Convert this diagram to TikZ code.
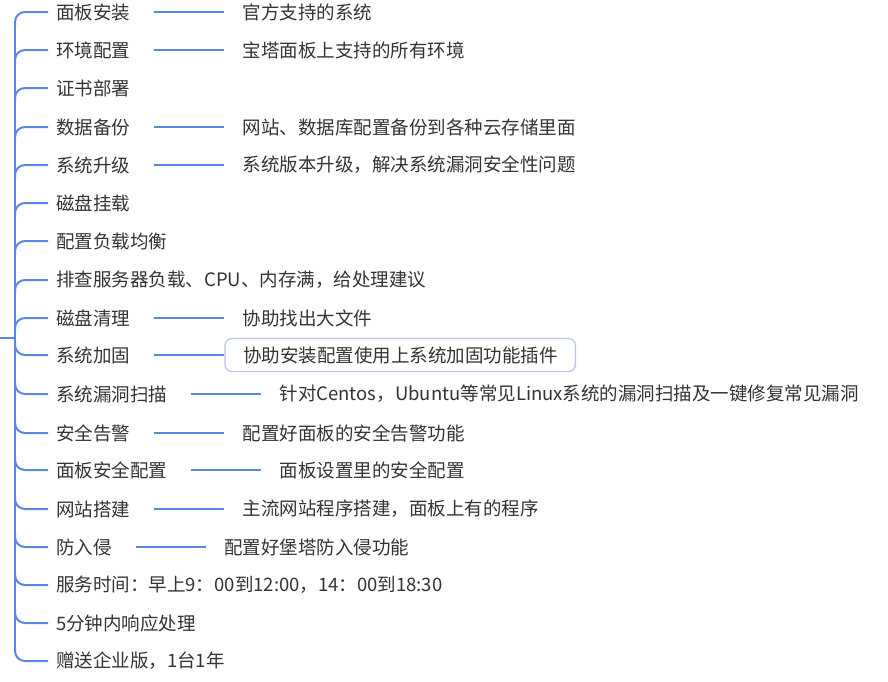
\documentclass[tikz,border=0pt]{standalone}
\usepackage{fontspec}
\setmainfont{Noto Sans CJK SC}
\begin{document}
\begin{tikzpicture}[x=1pt,y=-1pt,
  ln/.style={draw={rgb,255:red,91;green,134;blue,229},line width=2pt},
  txt/.style={anchor=west,inner sep=0pt,text={rgb,255:red,51;green,51;blue,51},font=\fontsize{18.5}{21}\selectfont},
  bx/.style={draw={rgb,255:red,184;green,198;blue,226},line width=1.2pt,rounded corners=7pt,minimum height=33pt,inner xsep=18pt,inner ysep=0pt,anchor=west}]
\useasboundingbox (0,0) rectangle (888,681);
\coordinate (root) at (0,338);
\coordinate (rj) at (15,338);
\draw[ln] (root) -- (rj);
\draw[ln] (15,24) -- (15,649);
\def\rows{{12,50,88,127,165,203,241,280,318,355,394,433,470,509,547,585,623,661}}
\foreach \t [count=\i] in {面板安装,环境配置,证书部署,数据备份,系统升级,磁盘挂载,配置负载均衡,排查服务器负载、CPU、内存满，给处理建议,磁盘清理,系统加固,系统漏洞扫描,安全告警,面板安全配置,网站搭建,防入侵,服务时间：早上9：00到12:00，14：00到18:30,5分钟内响应处理,赠送企业版，1台1年}{
  \pgfmathsetmacro\yy{\rows[\i-1]}
  \node[txt] (n\i) at (56,\yy) {\t};
  \ifnum\i<10
    \draw[ln,rounded corners=10pt] (15,\yy+14) -- (15,\yy) -- (48,\yy);
  \else
    \draw[ln,rounded corners=10pt] (15,\yy-14) -- (15,\yy) -- (48,\yy);
  \fi
}
\foreach \i/\t in {1/官方支持的系统,2/宝塔面板上支持的所有环境,4/网站、数据库配置备份到各种云存储里面,5/系统版本升级，解决系统漏洞安全性问题,9/协助找出大文件,11/针对Centos，Ubuntu等常见Linux系统的漏洞扫描及一键修复常见漏洞,12/配置好面板的安全告警功能,13/面板设置里的安全配置,14/主流网站程序搭建，面板上有的程序,15/配置好堡塔防入侵功能}{
  \node[txt] (m\i) at ([xshift=112pt]n\i.east) {\t};
  \draw[ln] ([xshift=24pt]n\i.east) -- ([xshift=-18pt]m\i.west);
}
\node[txt,bx] (m10) at ([xshift=94pt]n10.east) {协助安装配置使用上系统加固功能插件};
\draw[ln] ([xshift=24pt]n10.east) -- (m10.west);
\end{tikzpicture}
\end{document}
